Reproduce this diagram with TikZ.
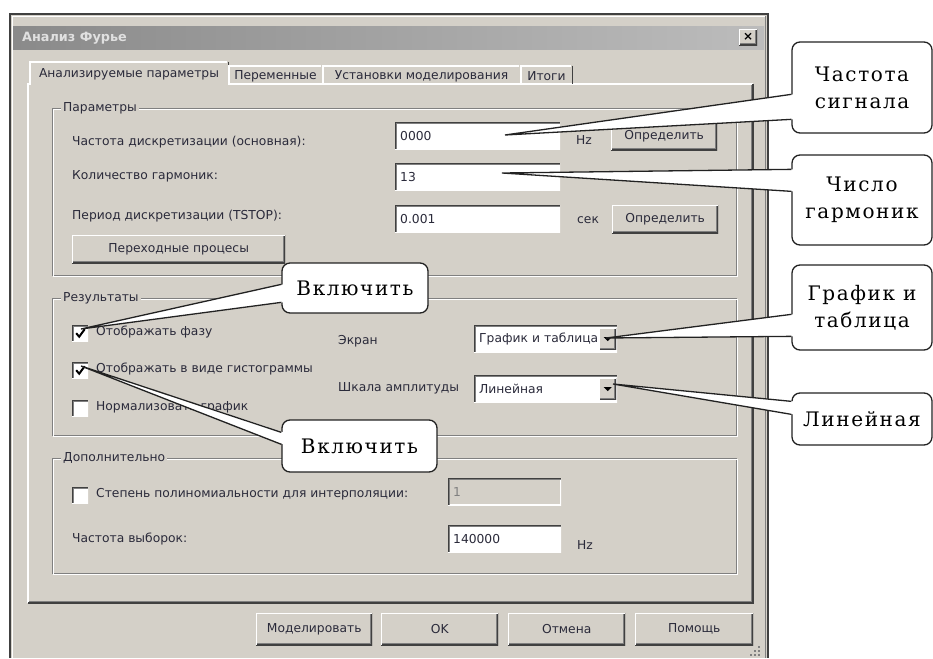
\documentclass[tikz,border=0pt]{standalone}
\usepackage{fontspec}
\setmainfont{Liberation Serif}
\newfontfamily\uifont{DejaVu Sans}
\newfontfamily\notefont[LetterSpace=8]{DejaVu Serif}
\usepackage{tikz}
\usetikzlibrary{positioning,calc}
\usepackage{xcolor}

\definecolor{winbg}{HTML}{D4D0C8}
\definecolor{shadow}{HTML}{808080}
\definecolor{dkshadow}{HTML}{404040}
\definecolor{titledark}{HTML}{8A8A8A}
\definecolor{titlelight}{HTML}{BCBCBC}
\definecolor{uitext}{HTML}{2A2A3A}
\definecolor{notegray}{HTML}{222222}

\begin{document}
\begin{tikzpicture}[
    x=1pt, y=-1pt,
    ui/.style={font=\uifont\fontsize{12.3}{14}\selectfont, text=uitext, inner sep=0pt},
    lbl/.style={ui, anchor=west},
    raised/.style={path picture={
        \draw[shadow, line width=4pt] (path picture bounding box.north east) -- (path picture bounding box.south east) -- (path picture bounding box.south west);
        \draw[dkshadow, line width=2pt] (path picture bounding box.north east) -- (path picture bounding box.south east) -- (path picture bounding box.south west);
        \draw[white, line width=2pt] (path picture bounding box.south west) -- (path picture bounding box.north west) -- (path picture bounding box.north east);}},
    sunken/.style={path picture={
        \draw[white, line width=2pt] (path picture bounding box.north east) -- (path picture bounding box.south east) -- (path picture bounding box.south west);
        \draw[shadow, line width=4pt] (path picture bounding box.south west) -- (path picture bounding box.north west) -- (path picture bounding box.north east);
        \draw[dkshadow, line width=2pt] (path picture bounding box.south west) -- (path picture bounding box.north west) -- (path picture bounding box.north east);}},
    btn/.style={ui, fill=winbg, raised, anchor=north west, minimum height=28, minimum width=#1},
    fld/.style={ui, fill=white, sunken, anchor=north west, minimum height=27, inner xsep=5pt, text width=#1pt, align=left},
    chk/.style={fill=white, sunken, anchor=north west, minimum size=16, inner sep=0pt},
    grplbl/.style={lbl, fill=winbg, inner xsep=2pt, inner ysep=1pt},
    tablbl/.style={ui},
    note/.style={draw=notegray, line width=1.3pt, fill=white, rounded corners=8pt,
        align=center, inner sep=0pt, font=\notefont\fontsize{20}{27}\selectfont},
    wedge/.style={draw=notegray, line width=1.3pt}
]
\useasboundingbox (0,0) rectangle (933,658);

% window
\fill[winbg] (10,14) rectangle (768,658);
\draw[dkshadow, line width=1.5pt] (10,658) -- (10,14) -- (768,14) -- (768,658);
\draw[white] (12,658) -- (12,16) -- (766,16);
\draw[shadow] (765,16) -- (765,658);
\shade[left color=titledark, right color=titlelight] (13,27) rectangle (764,50);
\node[anchor=west, inner sep=0pt, text=white!88!black,
      font=\uifont\bfseries\fontsize{12.8}{14}\selectfont] (title) at (22,38) {Анализ Фурье};
\node[btn=18, minimum height=16, font=\uifont\bfseries\fontsize{12}{12}\selectfont, text=black] (close) at (739,29) {×};

% tab panel
\draw[white, line width=1.5pt] (28,603) -- (28,84) -- (753,84);
\draw[shadow] (751.5,85) -- (751.5,601.5) -- (29,601.5);
\draw[dkshadow, line width=1.2pt] (753,84) -- (753,603) -- (28,603);

% tabs
\fill[winbg] (30,62) rectangle (228,86);
\draw[white, line width=1.2pt] (30,85) -- (30,62) -- (227,62);
\draw[dkshadow] (228,62) -- (228,84);
\foreach \a/\b in {229/322, 323/520, 521/572} {
    \draw[white, line width=1.2pt] (\a,84) -- (\a,66) -- (\b-1,66);
    \draw[dkshadow] (\b,66) -- (\b,84);
}
\node[tablbl] (tabA) at (129,74) {Анализируемые параметры};
\node[tablbl] (tabB) at (275.5,76) {Переменные};
\node[tablbl] (tabC) at (421.5,76) {Установки моделирования};
\node[tablbl] (tabD) at (546.5,76) {Итоги};

% group boxes
\foreach \t/\b in {108/275, 298/435, 458/573} {
    \draw[shadow] (52,\t) rectangle (736,\b);
    \draw[white] (53,\t+1) rectangle (737,\b+1);
}
\node[grplbl] (gparam) at (61,108) {Параметры};
\node[grplbl] (gres) at (61,298) {Результаты};
\node[grplbl] (gextra) at (61,458) {Дополнительно};

% parameters
\node[lbl] (lfreq) at (72,142) {Частота дискретизации (основная):};
\node[lbl] (lharm) at (72,176) {Количество гармоник:};
\node[lbl] (lper) at (72,216) {Период дискретизации (TSTOP):};
\node[fld=155] (ffreq) at (395,122) {0000};
\node[fld=155] (fharm) at (395,163) {13};
\node[fld=155] (fper) at (395,205) {0.001};
\node[lbl] (hz1) at (576,140) {Hz};
\node[lbl] (sec) at (577,220) {сек};
\node[btn=106] (det1) at (611,122) {Определить};
\node[btn=106] (det2) at (612,205) {Определить};
\node[btn=213] (trans) at (72,235) {Переходные процесы};

% results
\node[chk] (cb1) at (72,325) {};
\node[chk] (cb2) at (72,362) {};
\node[chk] (cb3) at (72,400) {};
\foreach \c in {cb1, cb2}
    \draw[black, line width=2pt] ([shift={(-4,0)}]\c.center) -- ([shift={(-1,3.5)}]\c.center) -- ([shift={(4.5,-4)}]\c.center);
\node[lbl] (lphase) at (96,332) {Отображать фазу};
\node[lbl] (lhist) at (96,369) {Отображать в виде гистограммы};
\node[lbl] (lnorm) at (96,407) {Нормализовать график};
\node[lbl] (lscr) at (338,341) {Экран};
\node[lbl] (lamp) at (338,388) {Шкала амплитуды};
\node[fld=133] (scr) at (474,325) {\mbox{График и таблица}};
\node[fld=133] (amp) at (474,375) {Линейная};
\node[btn=17, minimum height=22] (dd1) at (599,327.5) {};
\node[btn=17, minimum height=22] (dd2) at (599,377.5) {};
\foreach \d in {dd1, dd2}
    \fill[black] ([shift={(-4,-1.5)}]\d.center) -- ([shift={(4,-1.5)}]\d.center) -- ([shift={(0,2.5)}]\d.center) -- cycle;

% extra
\node[chk] (cb4) at (72,487) {};
\node[lbl] (lpoly) at (96,494) {Степень полиномиальности для интерполяции:};
\node[fld=103, fill=winbg, text=shadow] (fpoly) at (448,478) {1};
\node[lbl] (lsamp) at (72,539) {Частота выборок:};
\node[fld=103] (fsamp) at (448,525) {140000};
\node[lbl] (hz2) at (577,545) {Hz};

% bottom buttons
\node[btn=116, minimum height=32] (sim) at (256,613) {Моделировать};
\node[btn=117, minimum height=32] (ok) at (381,613) {OK};
\node[btn=117, minimum height=32] (cancel) at (508,613) {Отмена};
\node[btn=118, minimum height=32] (help) at (635,613) {Помощь};
\foreach \p in {(758,646),(754,650),(758,650),(750,654),(754,654),(758,654)}
    \fill[shadow] \p rectangle +(2,2);

% callouts
\node[note, minimum width=140, minimum height=91] (nfreq) at (862,87.5) {Частота\\сигнала};
\node[note, minimum width=140, minimum height=90] (nharm) at (862,200) {Число\\гармоник};
\node[note, minimum width=140, minimum height=85] (nscr) at (862,307.5) {График и\\таблица};
\node[note, minimum width=140, minimum height=52] (namp) at (862,419) {Линейная};
\node[note, minimum width=146, minimum height=50] (non1) at (355,288) {Включить};
\node[note, minimum width=155, minimum height=52] (non2) at (359.5,446) {Включить};

\coordinate (tfreq) at (505,135);
\coordinate (tharm) at (502,173);
\coordinate (tscr) at (606,338);
\coordinate (tamp) at (613,384);
\coordinate (ton1) at (81,329);
\coordinate (ton2) at (81,366);

\foreach \n/\t/\u/\v in {nfreq/tfreq/53/78, nharm/tharm/15/37, nscr/tscr/50/72,
                         namp/tamp/9/22, non1/ton1/22/40, non2/ton2/13/25} {
    \fill[white] ($(\n.north west)+(2,\u)$) -- (\t) -- ($(\n.north west)+(2,\v)$) -- cycle;
    \draw[wedge] ($(\n.north west)+(0,\u)$) -- (\t) -- ($(\n.north west)+(0,\v)$);
}

\end{tikzpicture}
\end{document}
